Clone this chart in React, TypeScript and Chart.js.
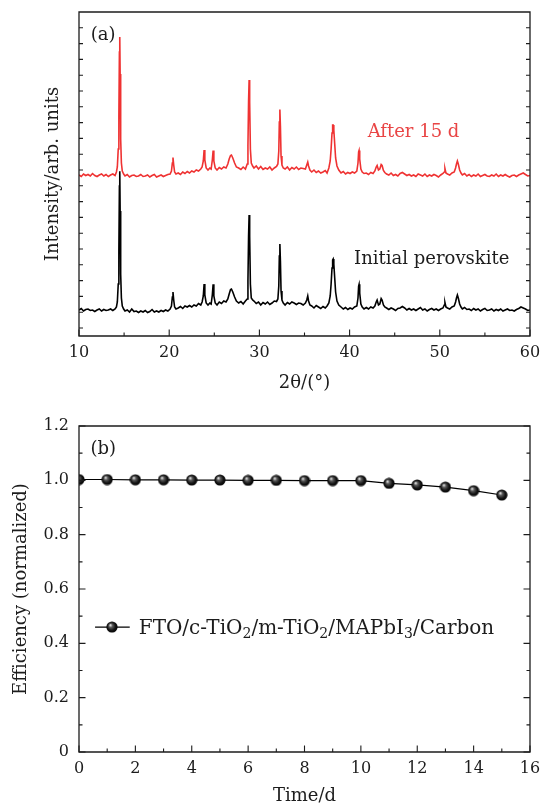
import React, { useEffect, useRef } from 'react';
import { Chart, registerables } from 'chart.js';

Chart.register(...registerables);

const FONT = "'DejaVu Serif', 'Liberation Serif', serif";
const INK = '#1c1c1c';

// ---------- (a) XRD patterns ----------
const twoTheta = [
  10, 10.25, 10.5, 10.75, 11, 11.25, 11.5, 11.75, 12, 12.25, 12.5, 12.75, 13, 13.25, 13.5, 13.75, 14,
  14.15, 14.25, 14.35, 14.42, 14.48, 14.52, 14.56, 14.62, 14.7, 14.8, 14.95,
  15.1, 15.35, 15.6, 15.85, 16.1, 16.35, 16.6, 16.85, 17.1, 17.35, 17.6, 17.85, 18.1, 18.35, 18.6, 18.85, 19.1, 19.35, 19.6, 19.85, 20.1,
  20.25, 20.35, 20.42, 20.5, 20.6, 20.75,
  21, 21.25, 21.5, 21.75, 22, 22.25, 22.5, 22.75, 23, 23.25, 23.5, 23.65,
  23.78, 23.87, 23.95, 24.1, 24.3, 24.5, 24.65, 24.78, 24.87, 24.95, 25.1,
  25.3, 25.55, 25.8, 26.05, 26.3, 26.5,
  26.65, 26.8, 26.9, 27.05, 27.25, 27.45,
  27.7, 27.95, 28.2, 28.45, 28.65,
  28.73, 28.8, 28.86, 28.92, 29, 29.1, 29.25,
  29.4, 29.65, 29.9, 30.15, 30.4, 30.65, 30.9, 31.15, 31.4, 31.65, 31.9, 32.05,
  32.15, 32.21, 32.27, 32.33, 32.4, 32.5, 32.65,
  32.85, 33.1, 33.35, 33.6, 33.85, 34.1, 34.35, 34.6, 34.85, 35.1,
  35.25, 35.36, 35.45, 35.6,
  35.8, 36.05, 36.3, 36.55, 36.8, 37.05, 37.3, 37.5, 37.7,
  37.85, 37.95, 38.05, 38.12, 38.18, 38.25, 38.35, 38.45, 38.6, 38.8,
  39.05, 39.3, 39.55, 39.8, 40.05, 40.3, 40.55, 40.8,
  40.93, 41, 41.05, 41.12, 41.25, 41.4,
  41.6, 41.85, 42.1, 42.35, 42.6, 42.8,
  42.95, 43.05, 43.2, 43.35, 43.5, 43.6, 43.75, 43.9,
  44.1, 44.35, 44.6, 44.85, 45.1, 45.35, 45.6, 45.85, 46.1, 46.35, 46.6, 46.85, 47.1, 47.35, 47.6, 47.85, 48.1, 48.35, 48.6, 48.85, 49.1, 49.35, 49.6, 49.85, 50.1, 50.35,
  50.5, 50.57, 50.68,
  50.85, 51.1, 51.35, 51.6, 51.75,
  51.85, 51.95, 52.05, 52.2, 52.35,
  52.5, 52.75, 53, 53.25, 53.5, 53.75, 54, 54.25, 54.5, 54.75, 55, 55.25, 55.5, 55.75, 56, 56.25, 56.5, 56.75, 57, 57.25, 57.5, 57.75, 58, 58.25, 58.5, 58.75, 59, 59.25, 59.5, 59.75, 60,
];

const initialPerovskite = [
  26, 27.5, 25, 26.5, 27, 25.5, 26, 24.5, 26, 27, 25, 26.5, 25.5, 26, 27, 25.5, 27,
  29, 34, 52, 85, 150, 164.7, 125, 62, 38, 30, 27,
  25, 26, 24, 27, 24.5, 25, 23.5, 25, 24, 25.5, 23.5, 24.5, 26.5, 24, 25, 24, 25.5, 24.5, 26, 25, 27,
  30, 39, 44, 36, 29, 27,
  28, 29.5, 27.5, 30, 29, 30.5, 29, 31, 30, 32.5, 31, 34,
  40, 52, 41, 33, 31, 33, 32, 41, 51.7, 40, 33,
  31, 34, 32.5, 35, 34, 37,
  42, 46.5, 47, 44, 39, 35,
  33, 34.5, 32, 35, 37,
  55, 100, 121, 100, 52, 38, 36,
  35, 32.5, 34, 31, 33.5, 32, 34, 31.5, 33, 35, 34.5, 37,
  50, 80, 92, 75, 45, 36, 33,
  31, 33.5, 32, 34, 33, 31.5, 33, 32.5, 31, 33,
  36, 40, 35, 31,
  30, 28, 30.5, 29, 27.5, 29.5, 28, 30, 33,
  40, 52, 68, 76, 77, 72, 58, 44, 35, 31,
  29, 27, 28.5, 26.5, 28, 27, 29, 30,
  38, 50, 51.7, 43, 32, 29,
  27, 28.5, 27, 29, 28, 30,
  34, 36, 31, 32, 37.5, 36, 31, 29,
  28, 26.5, 28, 27, 25.5, 27.5, 28, 29.5, 28, 26, 27.5, 26, 27, 25.5, 27, 28.5, 26, 27, 25, 26.5, 27.5, 26, 27, 25.5, 27, 28,
  31, 33.5, 29,
  28, 27, 29, 30, 34,
  38, 41, 38, 32, 29,
  27, 28.5, 26.5, 27, 25.5, 27.5, 26, 27, 25, 26.5, 27.5, 25.5, 26, 27, 25, 26.5, 25.5, 27, 25, 26, 27, 25.5, 26, 25, 26.5, 27.5, 29, 28, 27, 25.5, 26,
];

const after15d = [
  161, 159.5, 162, 160.5, 161.5, 160, 162.5, 160.5, 159.5, 161, 162, 160, 161.5, 159.5, 161, 162, 160.5,
  164, 169, 187, 220, 284, 299, 262, 197, 173, 165, 162,
  160, 161.5, 159, 160.5, 161, 159.5, 160, 161.5, 159.5, 160, 161, 159, 160.5, 161.5, 159, 160, 161, 159.5, 160.5, 161.5, 162,
  165, 173, 178.5, 171, 164, 162,
  163, 161.5, 164, 162.5, 164.5, 163, 165, 164, 166, 165, 167, 169,
  175, 186, 176, 168, 166, 168, 167, 176, 185.5, 175, 168,
  166, 168.5, 167, 169, 168, 172,
  177, 180.5, 181, 178, 173, 169,
  168, 166.5, 169, 167, 172,
  190, 235, 256, 234, 187, 173, 170,
  168, 170, 167, 169.5, 166.5, 168, 167, 169, 166, 168, 169.5, 172,
  185, 214, 226.5, 210, 180, 171, 168,
  167, 169, 166, 168.5, 167, 169, 166.5, 168, 167.5, 167,
  171, 174, 170, 166,
  164, 166, 163.5, 165, 163, 164, 165.5, 163, 168,
  175, 187, 203, 211, 211, 206, 192, 178, 170, 166,
  163, 164.5, 162, 163.5, 162.5, 164, 163, 165,
  173, 184, 185.5, 177, 167, 164,
  162.5, 163, 161.5, 163.5, 162.5, 165,
  169, 170.5, 166, 167, 171.5, 170.5, 165.5, 163.5,
  162, 161, 163, 160.5, 161.5, 160, 162.5, 163.5, 162, 160.5, 161.5, 160, 161, 159.5, 162, 161, 160, 162, 159.5, 161, 160, 161.5, 160.5, 159, 161, 162.5,
  164, 167.5, 163,
  162, 161, 163, 164, 168,
  172, 175, 172, 166, 163,
  161, 162.5, 160, 161.5, 159.5, 161, 160, 162, 159.5, 160.5, 161.5, 160, 159.5, 161, 160, 162, 159.5, 161, 160, 161.5, 160, 159, 160.5, 161, 159.5, 161, 162, 163, 161.5, 160, 160.5,
];

const xTicksA = [10, 20, 30, 40, 50, 60];
const xMinorA = [15, 25, 35, 45, 55];
const yTicksA = [8, 23.8, 39.6, 55.4, 71.2, 87, 102.8, 118.6, 134.4, 150.2, 166, 181.8, 197.6, 213.4, 229.2, 245, 260.8, 276.6, 292.4, 308.2];
const notesA = [
  { text: '(a)', x: 11.3, y: 301, color: INK },
  { text: 'After 15 d', x: 42.0, y: 204, color: '#e94545' },
  { text: 'Initial perovskite', x: 40.5, y: 77, color: INK },
];

// ---------- (b) Efficiency ----------
const days = [0, 1, 2, 3, 4, 5, 6, 7, 8, 9, 10, 11, 12, 13, 14, 15];
const efficiency = [1.003, 1.003, 1.002, 1.002, 1.001, 1.001, 1.0, 1.0, 0.999, 0.999, 0.999, 0.989, 0.983, 0.975, 0.962, 0.946];
const xTicksB = [0, 2, 4, 6, 8, 10, 12, 14, 16];
const xMinorB = [1, 3, 5, 7, 9, 11, 13, 15];
const yTicksB = [0, 0.2, 0.4, 0.6, 0.8, 1.0, 1.2];
const yTickLabelsB = ['0', '0.2', '0.4', '0.6', '0.8', '1.0', '1.2'];
const yMinorB = [0.1, 0.3, 0.5, 0.7, 0.9, 1.1];
const legendSegments = [
  { t: 'FTO/c-TiO', sub: false },
  { t: '2', sub: true },
  { t: '/m-TiO', sub: false },
  { t: '2', sub: true },
  { t: '/MAPbI', sub: false },
  { t: '3', sub: true },
  { t: '/Carbon', sub: false },
];
const notesB = [{ text: '(b)', x: 0.41, y: 1.115, color: INK }];

// ---------- helpers ----------
function framePlugin(o: { xMajor: number[]; xMinor: number[]; yMajor: number[]; yMinor: number[]; yMajorLen: number }) {
  return {
    id: 'frameTicks',
    afterDraw(chart: any) {
      const { ctx, chartArea: a, scales } = chart;
      const xs = scales.x;
      const ys = scales.y;
      ctx.save();
      ctx.strokeStyle = INK;
      ctx.lineWidth = 1.3;
      ctx.beginPath();
      ctx.rect(a.left, a.top, a.right - a.left, a.bottom - a.top);
      ctx.stroke();
      ctx.lineWidth = 1.1;
      ctx.beginPath();
      const xt = (v: number, len: number) => {
        const p = xs.getPixelForValue(v);
        ctx.moveTo(p, a.bottom);
        ctx.lineTo(p, a.bottom - len);
      };
      const yt = (v: number, len: number) => {
        const p = ys.getPixelForValue(v);
        ctx.moveTo(a.left, p);
        ctx.lineTo(a.left + len, p);
        ctx.moveTo(a.right, p);
        ctx.lineTo(a.right - len, p);
      };
      o.xMajor.forEach((v) => xt(v, 6.5));
      o.xMinor.forEach((v) => xt(v, 3.5));
      o.yMajor.forEach((v) => yt(v, o.yMajorLen));
      o.yMinor.forEach((v) => yt(v, 3.5));
      ctx.stroke();
      ctx.restore();
    },
  };
}

function notesPlugin(items: { text: string; x: number; y: number; color: string }[]) {
  return {
    id: 'notes',
    afterDatasetsDraw(chart: any) {
      const { ctx, scales } = chart;
      ctx.save();
      ctx.font = `18px ${FONT}`;
      ctx.textAlign = 'left';
      ctx.textBaseline = 'middle';
      items.forEach((it) => {
        ctx.fillStyle = it.color;
        ctx.fillText(it.text, scales.x.getPixelForValue(it.x), scales.y.getPixelForValue(it.y));
      });
      ctx.restore();
    },
  };
}

function makeSphere(): HTMLCanvasElement {
  const c = document.createElement('canvas');
  c.width = 12;
  c.height = 12;
  const g = c.getContext('2d')!;
  const grad = g.createRadialGradient(4.3, 4.0, 0.3, 6, 6, 6);
  grad.addColorStop(0, '#e6e6e6');
  grad.addColorStop(0.28, '#5a5a5a');
  grad.addColorStop(0.65, '#151515');
  grad.addColorStop(1, '#000');
  g.fillStyle = grad;
  g.beginPath();
  g.arc(6, 6, 5.6, 0, Math.PI * 2);
  g.fill();
  return c;
}

function legendPlugin(sphere: HTMLCanvasElement) {
  return {
    id: 'richLegend',
    afterDatasetsDraw(chart: any) {
      const { ctx, scales } = chart;
      const x0 = scales.x.getPixelForValue(0.57);
      const x1 = scales.x.getPixelForValue(1.8);
      const xm = scales.x.getPixelForValue(1.17);
      const xt = scales.x.getPixelForValue(2.12);
      const y = scales.y.getPixelForValue(0.46);
      ctx.save();
      ctx.strokeStyle = '#000';
      ctx.lineWidth = 1.3;
      ctx.beginPath();
      ctx.moveTo(x0, y);
      ctx.lineTo(x1, y);
      ctx.stroke();
      ctx.drawImage(sphere, xm - sphere.width / 2, y - sphere.height / 2);
      ctx.fillStyle = INK;
      ctx.textAlign = 'left';
      ctx.textBaseline = 'alphabetic';
      const base = y + 7.2;
      let cx = xt;
      legendSegments.forEach((s) => {
        ctx.font = s.sub ? `14px ${FONT}` : `20px ${FONT}`;
        ctx.fillText(s.t, cx, s.sub ? base + 4 : base);
        cx += ctx.measureText(s.t).width;
      });
      ctx.restore();
    },
  };
}

const fitX = (h: number) => (s: any) => {
  s.height = h;
  s.paddingLeft = 0;
  s.paddingRight = 0;
};
const fitY = (s: any) => {
  s.width = 79;
  s.paddingTop = 0;
  s.paddingBottom = 0;
};

function ChartA() {
  const ref = useRef<HTMLCanvasElement>(null);
  useEffect(() => {
    const chart = new Chart(ref.current!, {
      type: 'line',
      data: {
        datasets: [
          {
            label: 'Initial perovskite',
            data: twoTheta.map((x, i) => ({ x, y: initialPerovskite[i] })),
            borderColor: '#000',
            borderWidth: 1.6,
            pointRadius: 0,
            tension: 0,
          },
          {
            label: 'After 15 d',
            data: twoTheta.map((x, i) => ({ x, y: after15d[i] })),
            borderColor: '#ef3232',
            borderWidth: 1.6,
            pointRadius: 0,
            tension: 0,
          },
        ],
      },
      options: {
        animation: false,
        responsive: false,
        devicePixelRatio: 1,
        layout: { padding: { left: 0, right: 12, top: 12, bottom: 0 } },
        plugins: { legend: { display: false }, tooltip: { enabled: false } },
        scales: {
          x: {
            type: 'linear',
            min: 10,
            max: 60,
            afterBuildTicks: (s: any) => {
              s.ticks = xTicksA.map((v) => ({ value: v }));
            },
            afterFit: fitX(64),
            grid: { display: false, drawTicks: false },
            border: { display: false },
            ticks: { color: INK, padding: 7.4, font: { family: FONT, size: 16 } },
            title: {
              display: true,
              text: '2θ/(°)',
              color: INK,
              font: { family: FONT, size: 18 },
              padding: { top: 0, bottom: 6.2 },
            },
          },
          y: {
            type: 'linear',
            min: 0,
            max: 324,
            afterBuildTicks: (s: any) => {
              s.ticks = yTicksA.map((v) => ({ value: v }));
            },
            afterFit: fitY,
            grid: { display: false, drawTicks: false },
            border: { display: false },
            ticks: { display: false },
            title: {
              display: true,
              text: 'Intensity/arb. units',
              color: INK,
              font: { family: FONT, size: 18 },
              padding: { top: 42.8, bottom: 0 },
            },
          },
        },
      },
      plugins: [
        framePlugin({ xMajor: xTicksA, xMinor: xMinorA, yMajor: yTicksA, yMinor: [], yMajorLen: 4 }),
        notesPlugin(notesA),
      ],
    } as any);
    return () => chart.destroy();
  }, []);
  return <canvas ref={ref} width={542} height={400} style={{ display: 'block' }} />;
}

function ChartB() {
  const ref = useRef<HTMLCanvasElement>(null);
  useEffect(() => {
    const sphere = makeSphere();
    const chart = new Chart(ref.current!, {
      type: 'line',
      data: {
        datasets: [
          {
            label: 'FTO/c-TiO2/m-TiO2/MAPbI3/Carbon',
            data: days.map((x, i) => ({ x, y: efficiency[i] })),
            borderColor: '#000',
            borderWidth: 1.2,
            pointStyle: sphere,
            pointRadius: 5.6,
            tension: 0,
          },
        ],
      },
      options: {
        animation: false,
        responsive: false,
        devicePixelRatio: 1,
        layout: { padding: { left: 0, right: 12, top: 26, bottom: 0 } },
        plugins: { legend: { display: false }, tooltip: { enabled: false } },
        scales: {
          x: {
            type: 'linear',
            min: 0,
            max: 16,
            afterBuildTicks: (s: any) => {
              s.ticks = xTicksB.map((v) => ({ value: v }));
            },
            afterFit: fitX(55),
            grid: { display: false, drawTicks: false },
            border: { display: false },
            ticks: { color: INK, padding: 7.4, font: { family: FONT, size: 16 } },
            title: {
              display: true,
              text: 'Time/d',
              color: INK,
              font: { family: FONT, size: 18 },
              padding: { top: 0, bottom: 0 },
            },
          },
          y: {
            type: 'linear',
            min: 0,
            max: 1.2,
            afterBuildTicks: (s: any) => {
              s.ticks = yTicksB.map((v) => ({ value: v }));
            },
            afterFit: fitY,
            grid: { display: false, drawTicks: false },
            border: { display: false },
            ticks: {
              color: INK,
              padding: 10,
              font: { family: FONT, size: 16 },
              callback: (_v: any, i: number) => yTickLabelsB[i],
            },
            title: {
              display: true,
              text: 'Efficiency (normalized)',
              color: INK,
              font: { family: FONT, size: 18 },
              padding: { top: 10.7, bottom: 0 },
            },
          },
        },
      },
      plugins: [
        framePlugin({ xMajor: xTicksB, xMinor: xMinorB, yMajor: yTicksB, yMinor: yMinorB, yMajorLen: 6.5 }),
        notesPlugin(notesB),
        legendPlugin(sphere),
      ],
    } as any);
    return () => chart.destroy();
  }, []);
  return <canvas ref={ref} width={542} height={407} style={{ display: 'block' }} />;
}

export default function App() {
  return (
    <div style={{ position: 'absolute', left: 0, top: 0, width: 542, height: 807, background: '#fff' }}>
      <ChartA />
      <ChartB />
    </div>
  );
}
